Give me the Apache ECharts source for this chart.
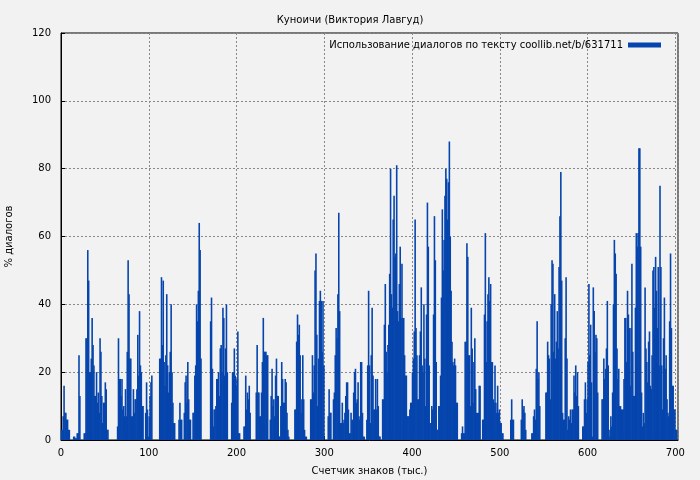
<!DOCTYPE html>
<html>
<head>
<meta charset="utf-8">
<script src="https://cdn.jsdelivr.net/npm/echarts@6/dist/echarts.min.js"></script>
<style>
  html, body { margin: 0; padding: 0; background: #f2f2f2; }
  #chart { width: 700px; height: 480px; }
</style>
</head>
<body>
<div id="chart"></div>
<script>
// Percentage of dialogue, one value per 1k characters (pairs per 2k)
const dialogPct = [
  3,3, 7,16, 8,8, 6,6, 3,3, 0,0, 0,0, 1,1, 0.5,0.5, 2,2,
  25,13, 0,0, 0,0, 2,2, 30,30, 56,47, 20,20, 24,36, 28,22, 13,13,
  20,11, 14,8, 30,26, 13,5, 11,11, 17,15, 3,3, 0,0, 0,0, 0,0,
  0,0, 0,0, 4,30, 18,18, 13,18, 9,10, 7,15, 7,26, 53,43, 24,24,
  7,7, 15,8, 12,12, 15,31, 19,38, 22,20, 10,10, 0,0, 8,17, 9,1,
  7,13, 17,19, 0,0, 0,0, 0,0, 0,0, 24,24, 48,28, 47,23, 16,25,
  43,22, 14,20, 26,40, 20,11, 5,5, 0,0, 0,0, 6,11, 6,6, 0,0,
  8,17, 19,11, 23,12, 6,6, 0,0, 8,8, 19,22, 40,35, 44,64, 56,24,
  0,0, 0,0, 0,0, 0,0, 0,0, 35,42, 21,4, 9,9, 10,18, 18,20,
  13,27, 28,20, 39,36, 19,27, 40,20, 0,0, 0,0, 11,20, 20,27, 19,16,
  18,32, 2,2, 0,0, 0,0, 4,4, 19,9, 14,12, 16,8, 0,0, 0,0,
  0,0, 14,28, 14,14, 7,7, 14,23, 36,26, 26,26, 25,25, 0,0, 6,13,
  21,10, 12,7, 19,24, 13,13, 1,1, 10,23, 18,11, 11,18, 17,8, 3,1,
  0,0, 0,0, 0,0, 9,9, 29,37, 31,34, 25,8, 12,25, 12,3, 1,1,
  0,0, 0,0, 12,12, 25,14, 22,50, 55,31, 10,24, 41,44, 41,26, 41,22,
  0,0, 0,0, 7,15, 8,8, 0,0, 12,14, 25,33, 30,43, 67,38, 5,5,
  11,5, 6,8, 13,17, 17,9, 2,2, 8,6, 6,14, 20,21, 11,12, 17,7,
  6,23, 23,8, 1,1, 0,0, 6,22, 44,22, 5,25, 39,19, 9,9, 18,9,
  18,10, 1,1, 0,0, 12,12, 34,46, 26,20, 28,34, 49,80, 43,39, 65,72,
  54,55, 81,38, 35,46, 57,36, 52,36, 36,25, 19,19, 7,7, 7,9, 11,11,
  20,24, 32,65, 33,25, 12,12, 25,32, 45,22, 20,40, 24,10, 37,70, 57,22,
  5,5, 10,9, 37,66, 53,23, 3,3, 10,10, 19,42, 68,50, 59,72, 80,77,
  65,76, 88,60, 44,29, 23,22, 24,22, 11,11, 0,0, 0,0, 2,4, 2,2,
  29,29, 58,54, 25,25, 10,39, 27,11, 23,30, 15,8, 8,8, 16,16, 0,0,
  6,6, 37,61, 23,35, 43,48, 41,46, 23,23, 12,11, 22,11, 8,16, 8,9,
  5,5, 2,2, 0,0, 0,0, 0,0, 0,0, 6,12, 6,6, 0,0, 0,0,
  0,0, 0,0, 6,12, 9,10, 8,3, 0,0, 0,0, 0,0, 2,2, 7,9,
  6,21, 35,18, 20,10, 0,0, 0,0, 0,0, 14,14, 29,25, 24,12, 40,53,
  52,26, 43,24, 29,38, 27,51, 66,79, 47,8, 6,6, 30,48, 24,3, 7,6,
  9,5, 9,9, 19,14, 22,13, 20,10, 0,0, 0,0, 4,4, 12,17, 8,12,
  23,46, 25,34, 17,1, 45,38, 26,31, 30,14, 0,0, 0,0, 12,12, 24,18,
  21,27, 41,22, 1,3, 7,4, 14,40, 59,55, 49,27, 18,21, 10,10, 9,9,
  9,18, 36,36, 23,44, 37,33, 16,33, 52,26, 13,13, 39,61, 57,61, 86,86,
  57,14, 4,8, 5,45, 27,23, 17,29, 32,16, 15,25, 50,51, 39,54, 44,33,
  51,22, 75,51, 22,9, 30,42, 21,25, 12,8, 7,35, 55,33, 16,16, 9,9,
  3,3
];

const xTicks = [0, 100, 200, 300, 400, 500, 600, 700];
const yTicks = [0, 20, 40, 60, 80, 100, 120];

const chart = echarts.init(document.getElementById('chart'));
const option = {
  backgroundColor: '#f2f2f2',
  animation: false,
  textStyle: { fontFamily: 'DejaVu Sans', color: '#000' },
  title: {
    text: 'Куноичи (Виктория Лавгуд)',
    left: 'center',
    top: 10,
    textStyle: { fontSize: 10, fontWeight: 'normal', color: '#000' }
  },
  legend: {
    right: 34,
    top: 35,
    itemWidth: 33,
    itemHeight: 5,
    itemGap: 6,
    icon: 'rect',
    align: 'right',
    textStyle: { fontSize: 10, color: '#000' },
    data: ['Использование диалогов по тексту coollib.net/b/631711']
  },
  grid: {
    left: 61, right: 22, top: 33, bottom: 40,
    outerBoundsMode: 'none',
    show: true, borderColor: '#000', borderWidth: 1
  },
  xAxis: {
    type: 'value',
    min: 0,
    max: 703,
    interval: 100,
    name: 'Счетчик знаков (тыс.)',
    nameLocation: 'middle',
    nameGap: 26,
    nameTextStyle: { fontSize: 10 },
    axisLine: { lineStyle: { color: '#000' } },
    axisTick: { inside: true, length: 4, lineStyle: { color: '#000' } },
    axisLabel: { fontSize: 10, color: '#000', showMaxLabel: false,
      formatter: v => xTicks.includes(v) ? String(v) : '' },
    splitLine: { lineStyle: { type: [2, 2], color: '#888' } }
  },
  yAxis: {
    type: 'value',
    min: 0,
    max: 120,
    interval: 20,
    name: '% диалогов',
    nameLocation: 'middle',
    nameGap: 47,
    nameTextStyle: { fontSize: 10 },
    axisLine: { show: true, lineStyle: { color: '#000' } },
    axisTick: { show: true, inside: true, length: 4, lineStyle: { color: '#000' } },
    axisLabel: { fontSize: 10, color: '#000', margin: 10,
      formatter: v => yTicks.includes(v) ? String(v) : '' },
    splitLine: { lineStyle: { type: [2, 2], color: '#888' } }
  },
  series: [{
    name: 'Использование диалогов по тексту coollib.net/b/631711',
    type: 'bar',
    barWidth: 1.6,
    itemStyle: { color: '#0645ad' },
    data: dialogPct.map((v, i) => [i + 0.5, v])
  }]
};
chart.setOption(option);
</script>
</body>
</html>
